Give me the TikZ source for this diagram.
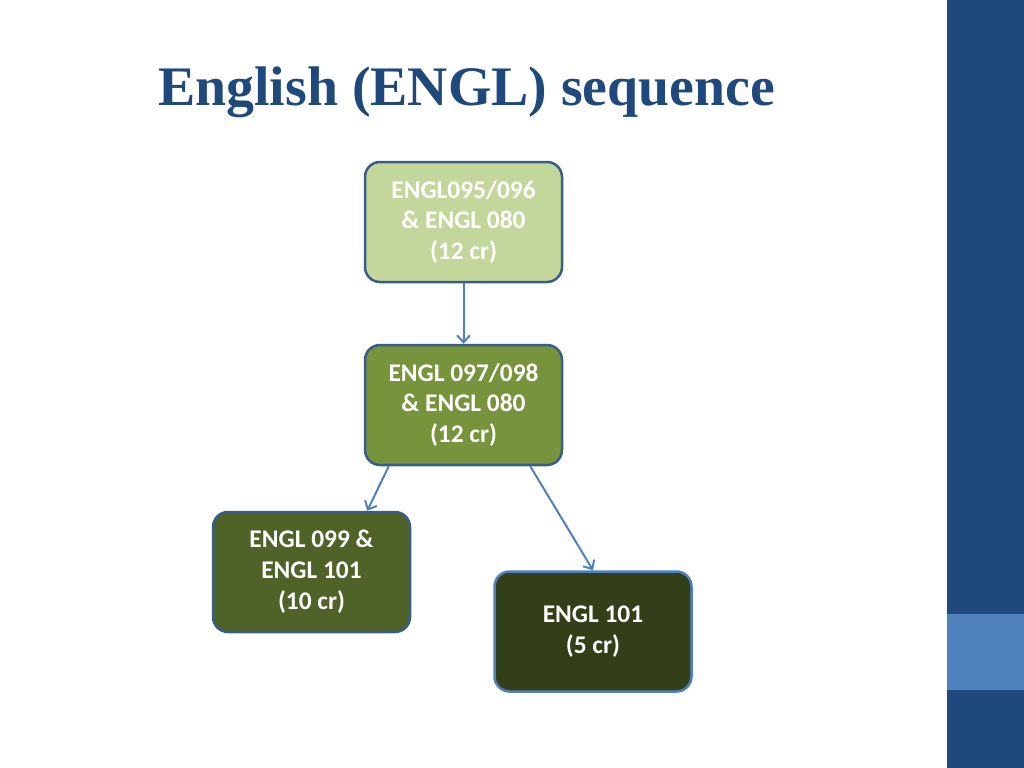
\documentclass[tikz,border=0pt]{standalone}
\usepackage{fontspec}
\setmainfont{Carlito}
\newfontfamily\titlefont{Liberation Serif}
\usetikzlibrary{arrows.meta}
\definecolor{titleblue}{HTML}{1F497D}
\definecolor{bandblue}{HTML}{1F497D}
\definecolor{bandlight}{HTML}{4F81BD}
\definecolor{boxline}{HTML}{385D8A}
\definecolor{linkblue}{HTML}{4F81BD}
\definecolor{palegreen}{HTML}{C3D69B}
\definecolor{midgreen}{HTML}{77933C}
\definecolor{olivegreen}{HTML}{4F6228}
\definecolor{darkolive}{HTML}{323F19}

\begin{document}
\begin{tikzpicture}[x=1bp,y=-1bp,
    course/.style={draw=boxline, line width=2.5bp, rounded corners=15bp,
        minimum width=197bp, minimum height=120bp, inner sep=0pt,
        text=white, align=center, font=\fontsize{25.5}{31}\selectfont\bfseries},
    link/.style={draw=linkblue, line width=2bp, -{Straight Barb[length=7bp,width=13bp]}}]
        \useasboundingbox (0,0) rectangle (1024,768);

        % side band
        \fill [bandblue] (947,0) rectangle (1024,768);
        \fill [bandlight] (947,614) rectangle (1024,690);

        \node [font=\titlefont\fontsize{56}{60}\selectfont\bfseries, text=titleblue, anchor=base west, inner sep=0pt] (title) at (158,105) {English (ENGL) sequence};

        % courses
        \node [course, fill=palegreen] (e095) at (463.5,222) {ENGL095/096\\\& ENGL 080\\(12 cr)};
        \node [course, fill=midgreen] (e097) at (463.5,405) {ENGL 097/098\\\& ENGL 080\\(12 cr)};
        \node [course, fill=olivegreen] (e099) at (311.5,572) {ENGL 099 \&\\ENGL 101\\(10 cr)};
        \node [course, fill=darkolive, draw=linkblue] (e101) at (593,631.5) {ENGL 101\\(5 cr)};

        \draw [link] (e095) -- (e097);
        \draw [link] ([xshift=25bp]e097.south west) -- ([xshift=-44bp]e099.north east);
        \draw [link] ([xshift=-33bp]e097.south east) -- (e101.north);
    \end{tikzpicture}
\end{document}
